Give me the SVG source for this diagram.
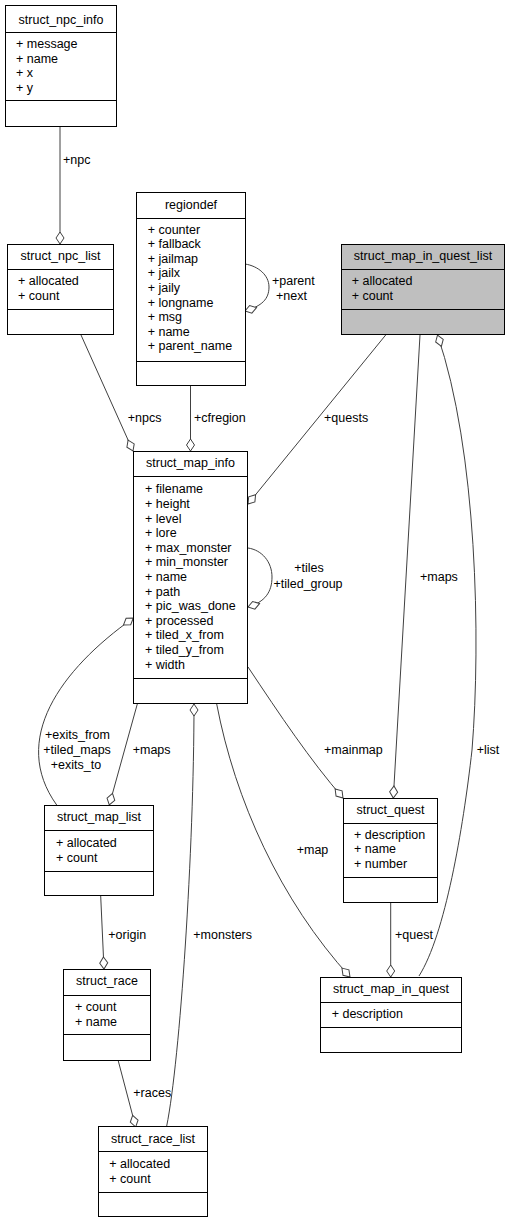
<svg xmlns="http://www.w3.org/2000/svg" width="509" height="1224" viewBox="0 0 509 1224">
<style>
.b{fill:#fff;stroke:#000;stroke-width:1}
.hl{fill:#bfbfbf}
.d{stroke:#000;stroke-width:1}
text{font-family:"Liberation Sans",Arial,Helvetica,sans-serif;font-size:12.5px;fill:#000}
.c{text-anchor:middle}
.e{fill:none;stroke:#404040;stroke-width:1;marker-end:url(#od)}
</style>
<defs>
<marker id="od" viewBox="-1 -5 14 10" refX="12" refY="0" markerWidth="14" markerHeight="10" orient="auto" markerUnits="userSpaceOnUse" overflow="visible">
<path d="M0,0 L6,-4 L12,0 L6,4 Z" fill="#fff" stroke="#404040" stroke-width="1"/>
</marker>
</defs>
<rect width="509" height="1224" fill="#fff"/>
<g id="connectors">
<path class="e" d="M60,127 L60,244"/>
<path class="e" d="M81,335 L133,451"/>
<path class="e" d="M190.5,386 L190.5,451"/>
<path class="e" d="M385.7,335 L248,504"/>
<path class="e" d="M420,335 L393.3,798"/>
<path class="e" d="M419,976 C445,935 463,830 472,750 C481,640 477,450 437.5,335"/>
<path class="e" d="M248,667 C280,715 310,760 343,798"/>
<path class="e" d="M216.7,704 C235,800 280,900 350,977"/>
<path class="e" d="M390.7,903 L390.7,977"/>
<path class="e" d="M56.7,805 C10,740 60,670 133.3,618"/>
<path class="e" d="M137.3,704 L109.3,805"/>
<path class="e" d="M166.7,1126 C180,1060 194,850 194,704"/>
<path class="e" d="M100.7,896 L104,969"/>
<path class="e" d="M118.3,1061 L135.7,1127"/>
<path class="e" d="M245,264 C258,266 269,275 269,287 C269,299 262,306 245,311"/>
<path class="e" d="M248,548 C262,550 272,562 272,577 C272,592 265,602 248,607"/>
<text x="63" y="164">+npc</text>
<text x="127.7" y="422">+npcs</text>
<text x="194" y="422">+cfregion</text>
<text x="324" y="422">+quests</text>
<text x="272" y="285">+parent</text>
<text x="276" y="300.3">+next</text>
<text class="c" x="309" y="572.3">+tiles</text>
<text class="c" x="308" y="588.3">+tiled_group</text>
<text x="420" y="581">+maps</text>
<text x="324" y="754.3">+mainmap</text>
<text x="476.7" y="754.3">+list</text>
<text x="296.7" y="854.3">+map</text>
<text x="395" y="938.6">+quest</text>
<text class="c" x="77.5" y="738.6">+exits_from</text>
<text class="c" x="77" y="754.3">+tiled_maps</text>
<text class="c" x="76" y="769.3">+exits_to</text>
<text x="132.7" y="754.3">+maps</text>
<text x="193.3" y="939.3">+monsters</text>
<text x="108.3" y="939.3">+origin</text>
<text x="133.3" y="1097">+races</text>
</g>
<g id="struct_npc_info">
<rect class="b" x="5.5" y="5.5" width="111" height="121"/>
<line class="d" x1="5.5" y1="32.5" x2="116.5" y2="32.5"/>
<line class="d" x1="5.5" y1="100.5" x2="116.5" y2="100.5"/>
<text class="c" x="61" y="23.5">struct_npc_info</text>
<text x="16" y="48">+ message</text>
<text x="16" y="62.6">+ name</text>
<text x="16" y="77.2">+ x</text>
<text x="16" y="91.8">+ y</text>
</g>
<g id="struct_npc_list">
<rect class="b" x="7.5" y="244.5" width="106" height="90"/>
<line class="d" x1="7.5" y1="269.5" x2="113.5" y2="269.5"/>
<line class="d" x1="7.5" y1="309.5" x2="113.5" y2="309.5"/>
<text class="c" x="60.5" y="260">struct_npc_list</text>
<text x="18" y="285">+ allocated</text>
<text x="18" y="299.6">+ count</text>
</g>
<g id="regiondef">
<rect class="b" x="136.5" y="192.5" width="109" height="193"/>
<line class="d" x1="136.5" y1="218.5" x2="245.5" y2="218.5"/>
<line class="d" x1="136.5" y1="361.5" x2="245.5" y2="361.5"/>
<text class="c" x="191" y="209.3">regiondef</text>
<text x="147.7" y="233.6">+ counter</text>
<text x="147.7" y="248.2">+ fallback</text>
<text x="147.7" y="262.8">+ jailmap</text>
<text x="147.7" y="277.4">+ jailx</text>
<text x="147.7" y="292">+ jaily</text>
<text x="147.7" y="306.6">+ longname</text>
<text x="147.7" y="321.2">+ msg</text>
<text x="147.7" y="335.8">+ name</text>
<text x="147.7" y="350.4">+ parent_name</text>
</g>
<g id="struct_map_in_quest_list">
<rect class="b hl" x="341.5" y="244.5" width="163" height="90"/>
<line class="d" x1="341.5" y1="269.5" x2="504.5" y2="269.5"/>
<line class="d" x1="341.5" y1="309.5" x2="504.5" y2="309.5"/>
<text class="c" x="423" y="260">struct_map_in_quest_list</text>
<text x="351.7" y="285">+ allocated</text>
<text x="351.7" y="299.6">+ count</text>
</g>
<g id="struct_map_info">
<rect class="b" x="133.5" y="451.5" width="114" height="252"/>
<line class="d" x1="133.5" y1="476.5" x2="247.5" y2="476.5"/>
<line class="d" x1="133.5" y1="678.5" x2="247.5" y2="678.5"/>
<text class="c" x="190.5" y="467">struct_map_info</text>
<text x="145" y="493.3">+ filename</text>
<text x="145" y="507.9">+ height</text>
<text x="145" y="522.5">+ level</text>
<text x="145" y="537.1">+ lore</text>
<text x="145" y="551.7">+ max_monster</text>
<text x="145" y="566.3">+ min_monster</text>
<text x="145" y="580.9">+ name</text>
<text x="145" y="595.5">+ path</text>
<text x="145" y="610.1">+ pic_was_done</text>
<text x="145" y="624.7">+ processed</text>
<text x="145" y="639.3">+ tiled_x_from</text>
<text x="145" y="653.9">+ tiled_y_from</text>
<text x="145" y="668.5">+ width</text>
</g>
<g id="struct_map_list">
<rect class="b" x="44.5" y="805.5" width="109" height="90"/>
<line class="d" x1="44.5" y1="830.5" x2="153.5" y2="830.5"/>
<line class="d" x1="44.5" y1="871.5" x2="153.5" y2="871.5"/>
<text class="c" x="99" y="821">struct_map_list</text>
<text x="56" y="847">+ allocated</text>
<text x="56" y="861.6">+ count</text>
</g>
<g id="struct_race">
<rect class="b" x="63.5" y="969.5" width="87" height="91"/>
<line class="d" x1="63.5" y1="995.5" x2="150.5" y2="995.5"/>
<line class="d" x1="63.5" y1="1034.5" x2="150.5" y2="1034.5"/>
<text class="c" x="107" y="985">struct_race</text>
<text x="75" y="1011.3">+ count</text>
<text x="75" y="1025.9">+ name</text>
</g>
<g id="struct_race_list">
<rect class="b" x="98.5" y="1126.5" width="109" height="90"/>
<line class="d" x1="98.5" y1="1151.5" x2="207.5" y2="1151.5"/>
<line class="d" x1="98.5" y1="1192.5" x2="207.5" y2="1192.5"/>
<text class="c" x="153" y="1143.3">struct_race_list</text>
<text x="109.3" y="1168">+ allocated</text>
<text x="109.3" y="1182.6">+ count</text>
</g>
<g id="struct_quest">
<rect class="b" x="343.5" y="798.5" width="94" height="104"/>
<line class="d" x1="343.5" y1="823.5" x2="437.5" y2="823.5"/>
<line class="d" x1="343.5" y1="877.5" x2="437.5" y2="877.5"/>
<text class="c" x="390.5" y="814.3">struct_quest</text>
<text x="354" y="838.6">+ description</text>
<text x="354" y="853.2">+ name</text>
<text x="354" y="867.8">+ number</text>
</g>
<g id="struct_map_in_quest">
<rect class="b" x="320.5" y="977.5" width="141" height="75"/>
<line class="d" x1="320.5" y1="1002.5" x2="461.5" y2="1002.5"/>
<line class="d" x1="320.5" y1="1027.5" x2="461.5" y2="1027.5"/>
<text class="c" x="391" y="993.3">struct_map_in_quest</text>
<text x="331.7" y="1017.6">+ description</text>
</g>
</svg>
